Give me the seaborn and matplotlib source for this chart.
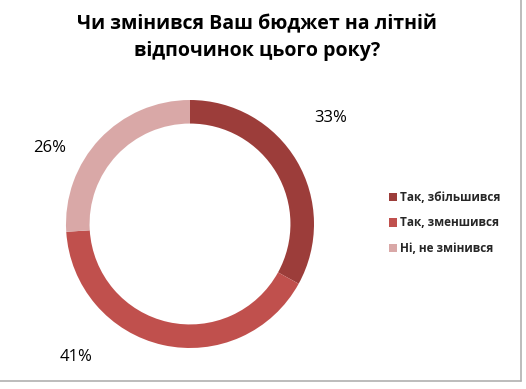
import matplotlib
matplotlib.use("Agg")
import matplotlib.pyplot as plt
import seaborn as sns
from matplotlib.lines import Line2D
from matplotlib.patches import Patch

title = "Чи змінився Ваш бюджет на літній\nвідпочинок цього року?"
categories = ["Так, збільшився", "Так, зменшився", "Ні, не змінився"]
shares = [33, 41, 26]
colors = ["#9C3D3A", "#C0504D", "#D9A8A7"]

sns.set_theme(style="white")
plt.rcParams["font.family"] = ["Open Sans", "DejaVu Sans"]

fig = plt.figure(figsize=(5.26, 3.89), dpi=100)
fig.patch.set_facecolor("white")

# donut placed by pixel: center (190, 224), radius 124
ax = fig.add_axes([66 / 526, 41 / 389, 248 / 526, 248 / 389])
wedges, _ = ax.pie(shares, colors=colors, startangle=90, counterclock=False,
                   radius=1.0, wedgeprops=dict(width=0.19, edgecolor="none"))
ax.set_xlim(-1, 1)
ax.set_ylim(-1, 1)
ax.set_aspect("equal")
ax.axis("off")

# percent labels
label_pos = [(331, 118), (76, 357), (50, 148)]
for (px, py), s in zip(label_pos, shares):
    fig.text(px / 526, 1 - py / 389, f"{s}%", ha="center", va="center",
             fontsize=12, color="black")

fig.text(257 / 526, 1 - 38 / 389, title, ha="center", va="center",
         fontsize=14, fontweight="bold", linespacing=1.45, color="black")

handles = [Patch(facecolor=c, edgecolor="none") for c in colors]
fig.legend(handles, categories, loc="center left",
           bbox_to_anchor=(378 / 526, 1 - 223 / 389), frameon=False,
           handlelength=0.7, handleheight=0.7,
           handletextpad=0.3, labelspacing=1.05,
           prop={"family": ["Open Sans", "DejaVu Sans"], "weight": "bold", "size": 8.5})

# gray right/bottom border
fig.add_artist(Line2D([0, 521 / 526], [1 - 381 / 389, 1 - 381 / 389],
                      color="#B0B0B0", lw=1.2, transform=fig.transFigure))
fig.add_artist(Line2D([521 / 526, 521 / 526], [1 - 381 / 389, 1],
                      color="#B0B0B0", lw=1.2, transform=fig.transFigure))

fig.savefig("out.png", dpi=100, facecolor="white")
